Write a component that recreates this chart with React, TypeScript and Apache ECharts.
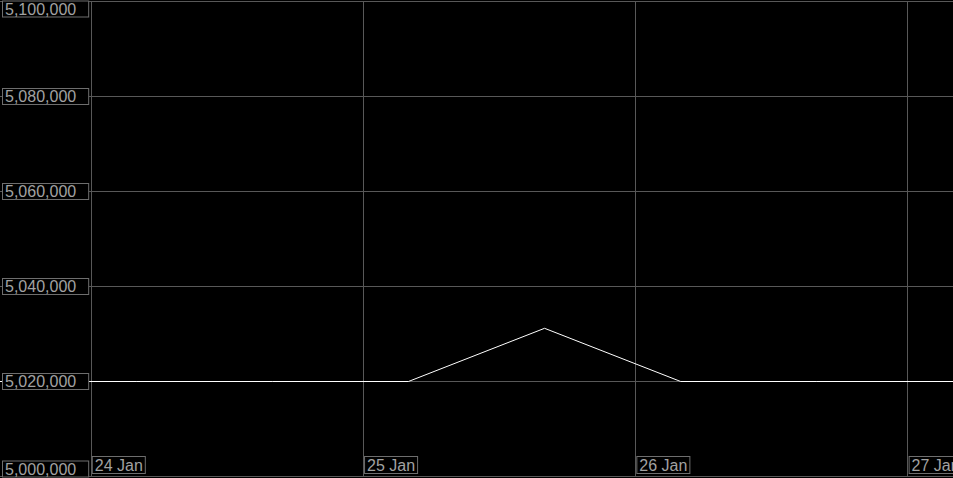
import React, { useEffect, useRef } from "react";
import * as echarts from "echarts";

// Data (local time stamps, value)
const times: string[] = [
  "2024-01-23 16:00",
  "2024-01-24 04:00",
  "2024-01-24 16:00",
  "2024-01-25 04:00",
  "2024-01-25 16:00",
  "2024-01-26 04:00",
  "2024-01-26 16:00",
  "2024-01-27 04:00",
];
const values: number[] = [5020000, 5020000, 5020000, 5020000, 5031200, 5020000, 5020000, 5020000];

const xRange: string[] = ["2024-01-23 16:00", "2024-01-27 04:00"];
const yMin = 5000000;
const yMax = 5100000;
const yStep = 20000;
const monthNames: string[] = ["Jan", "Feb", "Mar", "Apr", "May", "Jun", "Jul", "Aug", "Sep", "Oct", "Nov", "Dec"];

function parseLocal(s: string): number {
  const [d, t] = s.split(" ");
  const [y, m, day] = d.split("-").map(Number);
  const [hh, mm] = t.split(":").map(Number);
  return new Date(y, m - 1, day, hh, mm).getTime();
}

const TEXT = "#a2a2a2";
const BORDER = "#6e6e6e";
const GRID = "#585858";
const FONT = "'Liberation Sans', Arial, sans-serif";
const DAY = 24 * 3600 * 1000;

export default function App() {
  const ref = useRef<HTMLDivElement>(null);
  useEffect(() => {
    if (!ref.current) return;
    const chart = echarts.init(ref.current, null, { renderer: "svg" });
    const seriesData = times.map((t, i) => [parseLocal(t), values[i]]);
    const fmtNum = (v: number) => v.toLocaleString("en-US");
    chart.setOption({
      animation: false,
      backgroundColor: "#000",
      grid: { left: 0, right: 0, top: 1.5, bottom: 1.5, containLabel: false, outerBoundsMode: "none" },
      xAxis: {
        type: "time",
        min: parseLocal(xRange[0]),
        max: parseLocal(xRange[1]),
        minInterval: DAY,
        maxInterval: DAY,
        axisLine: { show: true, lineStyle: { color: GRID, width: 1 } },
        axisTick: { show: false },
        splitLine: { show: true, showMinLine: false, showMaxLine: false, lineStyle: { color: GRID, width: 1 } },
        axisLabel: {
          inside: true,
          margin: 4,
          align: "left",
          padding: [0, 0, 0, 2],
          formatter: (v: number) => {
            const d = new Date(v);
            return "{b|" + d.getDate() + " " + monthNames[d.getMonth()] + "}";
          },
          rich: {
            b: {
              color: TEXT,
              fontSize: 16,
              fontFamily: FONT,
              lineHeight: 15,
              backgroundColor: "#000",
              borderColor: BORDER,
              borderWidth: 1,
              padding: [0, 2, 0, 2],
            },
          },
        },
      },
      yAxis: [
        {
          type: "value",
          min: yMin,
          max: yMax,
          interval: yStep,
          z: 0,
          axisLine: { show: false },
          axisTick: { show: false },
          axisLabel: { show: false },
          splitLine: { show: true, lineStyle: { color: GRID, width: 1 } },
        },
        {
          type: "value",
          position: "left",
          min: yMin,
          max: yMax,
          interval: yStep,
          z: 10,
          axisLine: { show: false },
          axisTick: { show: false },
          splitLine: { show: false },
          axisLabel: {
            inside: true,
            margin: 3,
            align: "left",
            color: TEXT,
            fontSize: 16,
            fontFamily: FONT,
            lineHeight: 15,
            backgroundColor: "#000",
            borderColor: BORDER,
            borderWidth: 1,
            padding: [0, 12, 0, 2],
            verticalAlignMinLabel: "bottom",
            verticalAlignMaxLabel: "top",
            formatter: (v: number) => fmtNum(v),
          },
        },
      ],
      series: [
        {
          type: "line",
          xAxisIndex: 0,
          yAxisIndex: 0,
          data: seriesData,
          showSymbol: false,
          symbol: "none",
          lineStyle: { color: "#ffffff", width: 1 },
          z: 2,
        },
      ],
    });
    return () => chart.dispose();
  }, []);
  return (
    <div
      ref={ref}
      style={{ position: "fixed", left: 0, top: 0, width: 953, height: 478, background: "#000" }}
    />
  );
}
